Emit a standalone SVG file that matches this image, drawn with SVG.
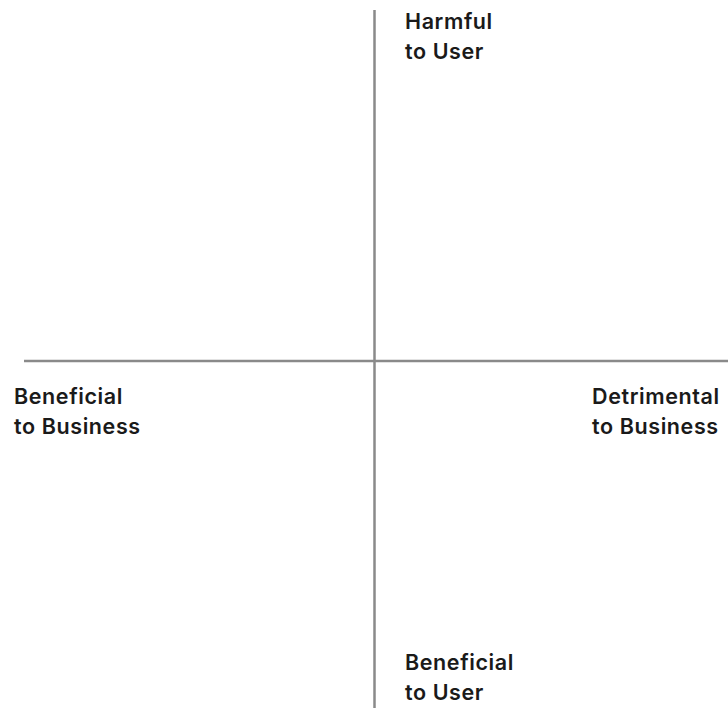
<svg xmlns="http://www.w3.org/2000/svg" width="728" height="708" viewBox="0 0 728 708">
  <style>
    .axis { stroke: #8a8a8a; stroke-width: 2.5; fill: none; }
    .lbl { font-family: Inter, "Liberation Sans", sans-serif; font-size: 21.5px; font-weight: 600; letter-spacing: 0.6px; fill: #1a1a1a; }
  </style>
  <rect width="728" height="708" fill="#ffffff"/>
  <g id="connectors">
    <line class="axis" x1="374.5" y1="10" x2="374.5" y2="708"/>
    <line class="axis" x1="24" y1="361" x2="728" y2="361"/>
  </g>
  <g id="harmful-user">
    <text class="lbl" x="405" y="29">Harmful</text>
    <text class="lbl" x="405" y="59">to User</text>
  </g>
  <g id="beneficial-business">
    <text class="lbl" x="14" y="404">Beneficial</text>
    <text class="lbl" x="14" y="434">to Business</text>
  </g>
  <g id="detrimental-business">
    <text class="lbl" x="592" y="404">Detrimental</text>
    <text class="lbl" x="592" y="434">to Business</text>
  </g>
  <g id="beneficial-user">
    <text class="lbl" x="405" y="670">Beneficial</text>
    <text class="lbl" x="405" y="700">to User</text>
  </g>
</svg>
